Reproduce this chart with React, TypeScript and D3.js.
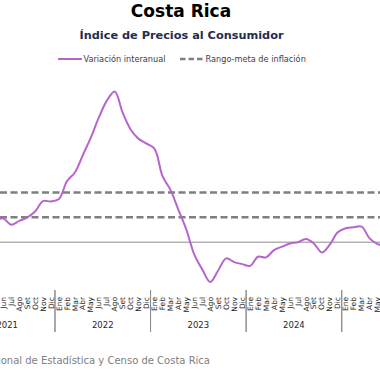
import React from "react";
import * as d3 from "d3";

const title = "Costa Rica";
const subtitle = "Índice de Precios al Consumidor";
const legendLine = "Variación interanual";
const legendRange = "Rango-meta de inflación";
const source = "Fuente: Instituto Nacional de Estadística y Censo de Costa Rica";

const monthNames = ["Ene", "Feb", "Mar", "Abr", "May", "Jun", "Jul", "Ago", "Set", "Oct", "Nov", "Dic"];
const years = [2021, 2022, 2023, 2024, 2025];

// Series starts May 2021
const seriesStart = { year: 2021, month: 4 };
const inflation = [
  1.75, 1.91, 1.41, 1.71, 1.98, 2.46, 3.3, 3.27,
  3.46, 4.9, 5.6, 7.0, 8.4, 10.0, 11.35, 12.1, 10.4, 9.05, 8.3, 7.92,
  7.5, 5.3, 4.2, 2.6, 1.0, -1.0, -2.2, -3.2, -2.25, -1.3, -1.6, -1.76,
  -1.9, -1.17, -1.22, -0.63, -0.36, -0.1, 0.0, 0.26, -0.1, -0.82, -0.2, 0.8,
  1.12, 1.2, 1.25, 0.31, -0.15, -0.3,
];
const targetRange = [2, 4];

const W = 380;
const H = 380;

export default function App() {
  const months: string[] = [];
  years.forEach((y) => monthNames.forEach((m, i) => months.push(`${y}-${i}`)));

  const x = d3.scaleBand<string>().domain(months).range([-40.6, 437.3]).paddingInner(0).paddingOuter(0);
  const y = d3.scaleLinear().domain([-4, 14]).range([292, 67.9]);

  const pts = inflation.map((v, i) => {
    const idx = seriesStart.month + i;
    const yr = seriesStart.year + Math.floor(idx / 12);
    const key = `${yr}-${idx % 12}`;
    return [x(key)! + x.bandwidth() / 2, y(v)] as [number, number];
  });
  const line = d3.line().curve(d3.curveCatmullRom.alpha(0.5))(pts) || "";

  const purple = "#b565cc";
  const gray = "#7f7f7f";
  const font = "'DejaVu Sans', sans-serif";

  const visibleMonths = months.filter((m) => {
    const cx = x(m)! + x.bandwidth() / 2;
    return cx > -2 && cx < W + 2;
  });

  return (
    <svg width={W} height={H} style={{ position: "absolute", left: 0, top: 0, background: "#fff" }}>
      <text x={181} y={16.5} textAnchor="middle" fontFamily={font} fontWeight="bold" fontSize={17} fill="#000">
        {title}
      </text>
      <text x={181.5} y={39} textAnchor="middle" fontFamily={font} fontWeight="bold" fontSize={11.3} fill="#1f2d4e">
        {subtitle}
      </text>
      {/* legend */}
      <line x1={58} x2={82} y1={59} y2={59} stroke={purple} strokeWidth={2} />
      <text x={83.5} y={62} fontFamily={font} fontSize={8.2} fill="#404040">{legendLine}</text>
      <line x1={180} x2={205} y1={59} y2={59} stroke={gray} strokeWidth={2.5} strokeDasharray="5.5,3" />
      <text x={205.5} y={62} fontFamily={font} fontSize={8.2} fill="#404040">{legendRange}</text>

      {/* target range */}
      {targetRange.map((t) => (
        <line key={t} x1={0} x2={W} y1={y(t)} y2={y(t)} stroke={gray} strokeWidth={2.5} strokeDasharray="7,3.5" />
      ))}
      {/* zero line */}
      <line x1={0} x2={W} y1={y(0)} y2={y(0)} stroke="#8c8c8c" strokeWidth={1} />

      <path d={line} fill="none" stroke={purple} strokeWidth={2} strokeLinejoin="round" />

      {/* x axis month labels */}
      {visibleMonths.map((m) => {
        const i = +m.split("-")[1];
        const cx = x(m)! + x.bandwidth() / 2;
        return (
          <text key={m} transform={`translate(${cx},297) rotate(-90)`} textAnchor="end" dy="0.35em"
            fontFamily={font} fontSize={7.5} fill="#262626">
            {monthNames[i]}
          </text>
        );
      })}
      {/* year separators & labels */}
      {years.map((yr) => {
        const x0 = x(`${yr}-0`)!;
        const x1 = x(`${yr}-11`)! + x.bandwidth();
        const cx = (x0 + x1) / 2;
        return (
          <g key={yr}>
            <line x1={x0} x2={x0} y1={290} y2={332} stroke="#8c8c8c" strokeWidth={1} />
            <line x1={x1} x2={x1} y1={290} y2={332} stroke="#8c8c8c" strokeWidth={1} />
            {cx < W && (
              <text x={cx} y={328} textAnchor="middle" fontFamily={font} fontSize={8.5} fill="#262626">
                {yr}
              </text>
            )}
          </g>
        );
      })}

      <text x={210} y={364} textAnchor="end" fontFamily={font} fontSize={10} fill="#808080">
        {source}
      </text>
    </svg>
  );
}
